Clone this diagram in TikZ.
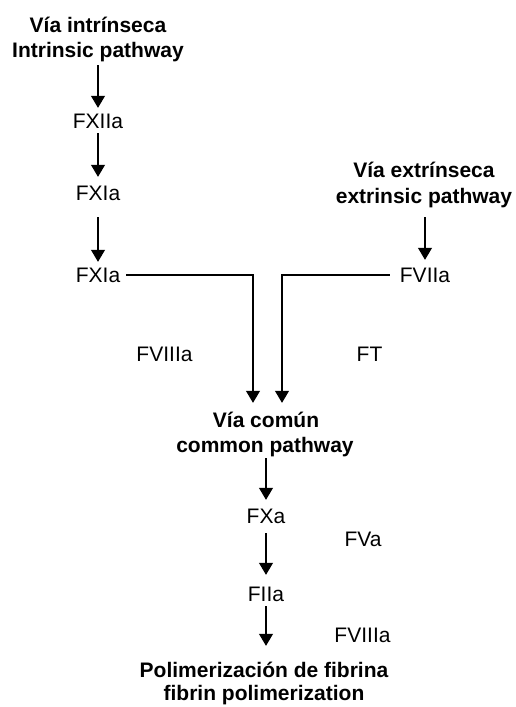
\documentclass[tikz,border=0pt]{standalone}
\usepackage{fontspec}
\setmainfont{Liberation Sans}
\usetikzlibrary{arrows.meta}
\begin{document}
\begin{tikzpicture}[x=1pt,y=-1pt,
  lbl/.style={anchor=base,inner sep=0pt,text height=15pt,text depth=5pt,font=\fontsize{21}{25}\selectfont},
  ttl/.style={lbl,font=\fontsize{21}{25}\selectfont\bfseries},
  arr/.style={line width=1.2pt,-{Triangle[length=12pt,width=14pt]}},
  elb/.style={line width=1.2pt,-{Triangle[length=12pt,width=14pt]}}]
\useasboundingbox (0,0) rectangle (515,707);
% intrinsic
\node[ttl] (t1) at (98,32) {Vía intrínseca};
\node[ttl] (t1b) at (98,57) {Intrinsic pathway};
\node[lbl] (f12) at (98,128) {FXIIa};
\node[lbl] (f11a) at (98,200) {FXIa};
\node[lbl] (f11b) at (98,282) {FXIa};
% extrinsic
\node[ttl] (e1) at (424,177) {Vía extrínseca};
\node[ttl] (e2) at (424,203) {extrinsic pathway};
\node[lbl] (f7) at (425,282) {FVIIa};
% cofactors
\node[lbl] (f8a) at (164.5,361) {FVIIIa};
\node[lbl] (ft) at (369.5,361) {FT};
% common
\node[ttl] (c1) at (266,427) {Vía común};
\node[ttl] (c1b) at (265,452) {common pathway};
\node[lbl] (fxa) at (266,523) {FXa};
\node[lbl] (fva) at (363,546) {FVa};
\node[lbl] (f2a) at (266,601) {FIIa};
\node[lbl] (f8b) at (362.5,642) {FVIIIa};
\node[ttl] (p1) at (264,677) {Polimerización de fibrina};
\node[ttl] (p1b) at (264,700) {fibrin polimerization};
% arrows
\draw[arr,shorten <=3pt,shorten >=5pt] (t1b.south) -- (f12.north);
\draw[arr,shorten >=8pt] (f12.south) -- (f11a.north);
\draw[arr,shorten <=12pt,shorten >=5pt] (f11a.south) -- (f11b.north);
\draw[arr,shorten <=9pt,shorten >=7pt] (f7.north |- e2.south) -- (f7.north);
\draw[elb,shorten <=6pt,shorten >=9pt] ([yshift=2pt]f11b.east) -| ([xshift=-13pt]c1.north);
\draw[elb,shorten <=10pt,shorten >=9pt] ([yshift=2pt]f7.west) -| ([xshift=16pt]c1.north);
\draw[arr,shorten <=1pt,shorten >=8pt] (c1b.south -| fxa.north) -- (fxa.north);
\draw[arr,shorten <=5pt,shorten >=11pt] (fxa.south) -- (f2a.north);
\draw[arr,shorten >=16pt] (f2a.south) -- (f2a.south |- p1.north);
\end{tikzpicture}
\end{document}
